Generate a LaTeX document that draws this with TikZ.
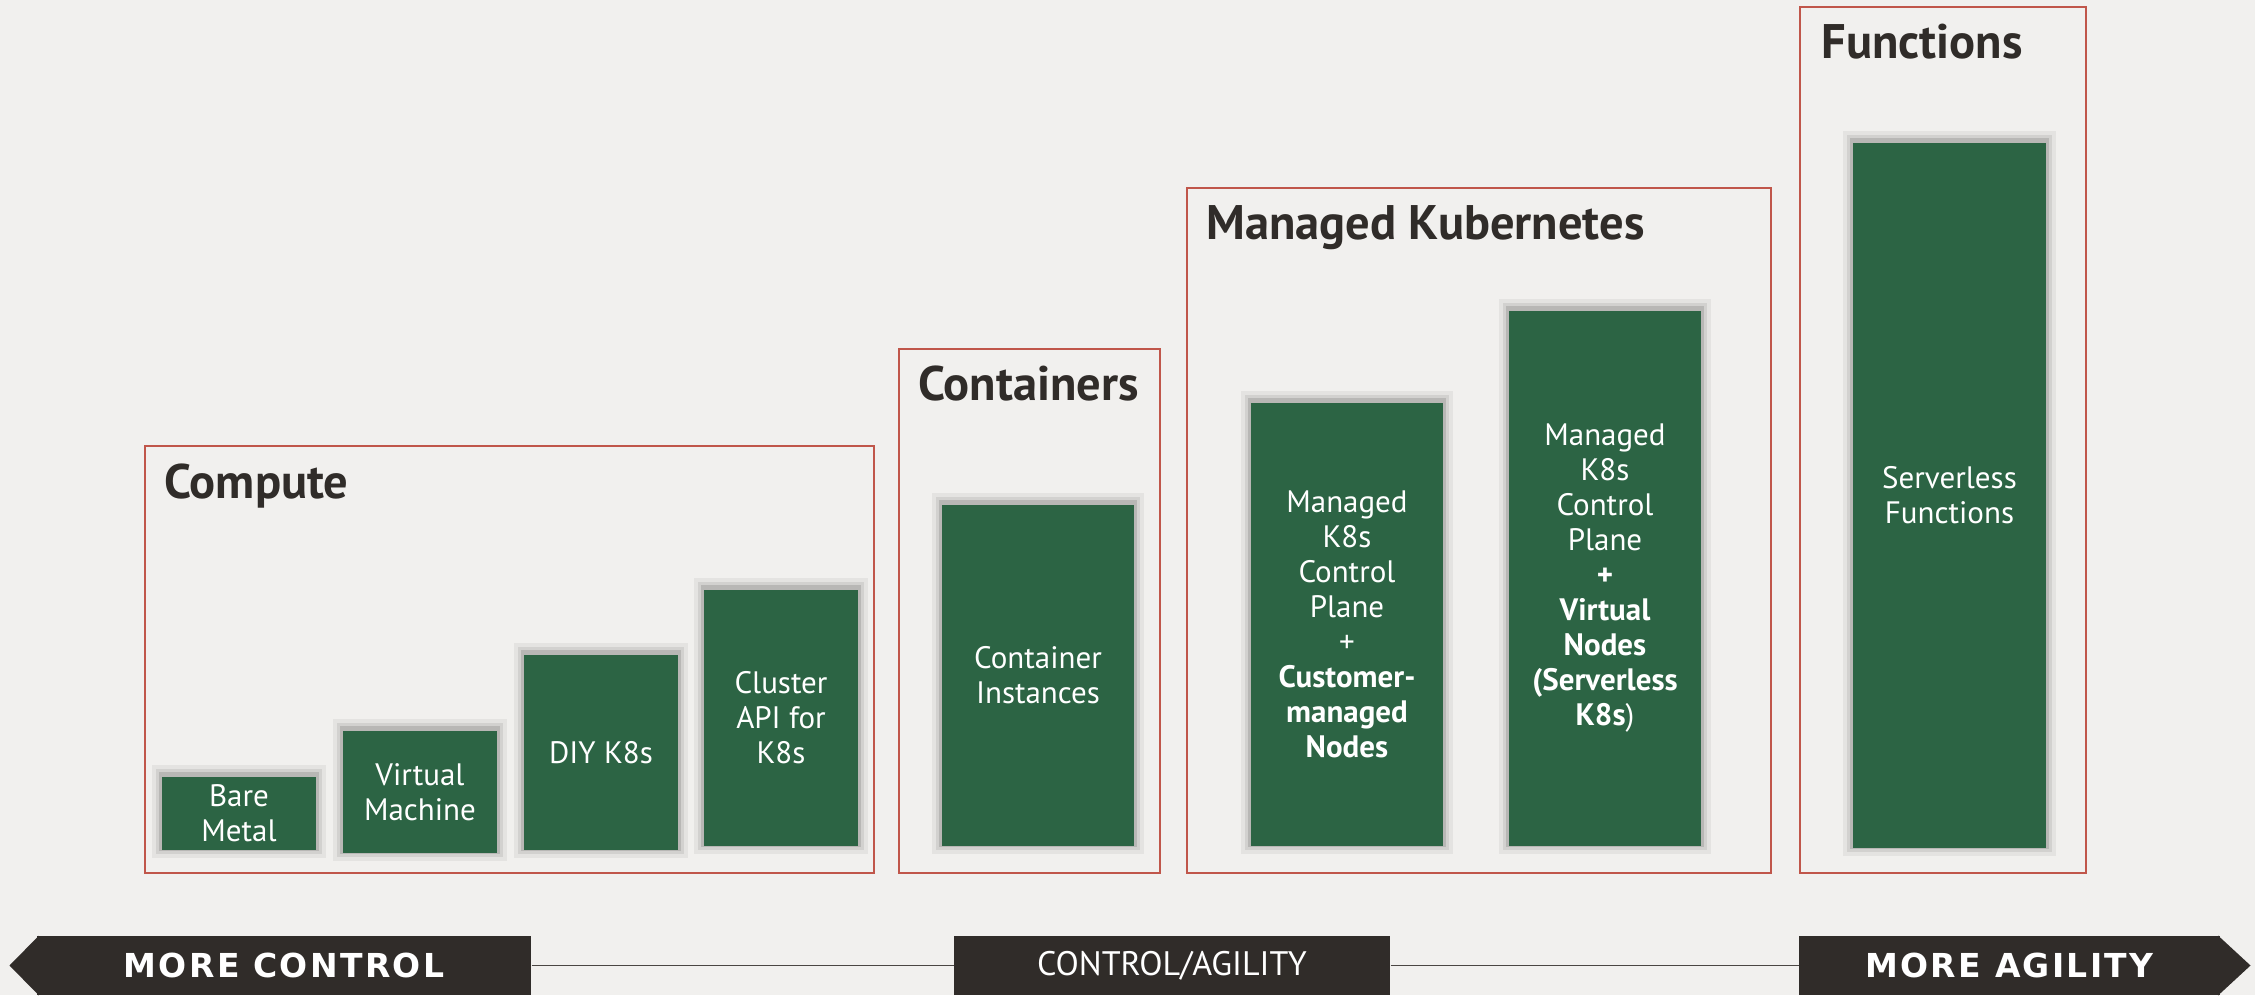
\documentclass[tikz,border=0pt]{standalone}
\usepackage{fontspec}
\setmainfont{PT Sans}
\newfontfamily\barfont{DejaVu Sans}[LetterSpace=7]
\definecolor{bg}{HTML}{F1F0EE}
\definecolor{boxgreen}{HTML}{2C6444}
\definecolor{framered}{HTML}{C0564A}
\definecolor{ink}{HTML}{302C29}
\definecolor{axisgray}{HTML}{4A4643}
\begin{document}
\begin{tikzpicture}[x=0.4pt,y=-0.4pt,
  frame/.style={draw=framered, line width=0.42pt},
  ttl/.style={anchor=base west, inner sep=0pt, text=ink, font=\fontsize{19.4}{21}\selectfont\bfseries},
  gbox/.style={fill=boxgreen, text=white, align=center, inner sep=0pt,
     font=\fontsize{12.4}{14}\selectfont,
     preaction={draw=black, draw opacity=0.05, line width=8pt, transform canvas={yshift=0.8pt}},
     preaction={draw=black, draw opacity=0.08, line width=5pt, transform canvas={yshift=0.8pt}},
     preaction={draw=black, draw opacity=0.12, line width=2.5pt, transform canvas={yshift=0.8pt}}},
  bar/.style={fill=ink, text=white, inner sep=0pt, minimum height=23.6pt},
  barfnt/.style={font=\barfont\bfseries\fontsize{13.2}{15}\selectfont},
  axis/.style={draw=axisgray, line width=0.6pt}
]
\useasboundingbox (0,0) rectangle (2255,995);
\fill[bg] (0,0) rectangle (2255,995);

% group frames
\draw[frame] (145,446) rectangle (874,873);
\draw[frame] (899,349) rectangle (1160,873);
\draw[frame] (1187,188) rectangle (1771,873);
\draw[frame] (1800,7) rectangle (2086,873);

% titles
\node[ttl] (tcompute) at (164,498) {Compute};
\node[ttl] (tcont) at (918,400) {Containers};
\node[ttl] (tmk) at (1206,239) {Managed Kubernetes};
\node[ttl] (tfn) at (1821,58) {Functions};

% green boxes
\node[gbox, minimum width=61.6pt, minimum height=29.2pt] (bm) at (239,813.5) {Bare\\Metal};
\node[gbox, minimum width=61.6pt, minimum height=48.8pt] (vm) at (420,792) {Virtual\\Machine};
\node[gbox, minimum width=61.6pt, minimum height=78pt] (diy) at (601,752.5) {DIY K8s};
\node[gbox, minimum width=61.6pt, minimum height=102.4pt] (capi) at (781,718) {Cluster\\API for\\K8s};
\node[gbox, minimum width=76.8pt, minimum height=136.4pt] (ci) at (1038,675.5) {Container\\Instances};
\node[gbox, minimum width=76.8pt, minimum height=177.2pt] (mk1) at (1347,624.5)
  {Managed\\K8s\\Control\\Plane\\+\\\textbf{Customer-}\\\textbf{managed}\\\textbf{Nodes}};
\node[gbox, minimum width=76.8pt, minimum height=214pt] (mk2) at (1605,578.5)
  {Managed\\K8s\\Control\\Plane\\\textbf{+}\\\textbf{Virtual}\\\textbf{Nodes}\\\textbf{(Serverless}\\\textbf{K8s})};
\node[gbox, minimum width=77.2pt, minimum height=282pt] (sf) at (1949.5,495.5) {Serverless\\Functions};

% bottom axis
\node[bar, barfnt, minimum width=197.6pt] (lbar) at (284,965.5) {MORE CONTROL};
\fill[ink] ([xshift=1pt]lbar.north west) -- ([xshift=-10.8pt]lbar.west) -- ([xshift=1pt]lbar.south west) -- cycle;
\node[bar, barfnt, minimum width=168.4pt] (rbar) at (2009.5,965.5) {MORE AGILITY};
\fill[ink] ([xshift=-1pt]rbar.north east) -- ([xshift=12pt]rbar.east) -- ([xshift=-1pt]rbar.south east) -- cycle;
\node[bar, minimum width=174.4pt, font=\fontsize{13.6}{15}\selectfont] (mid) at (1172,965.5) {CONTROL/AGILITY};
\draw[axis] (lbar.east) -- (mid.west);
\draw[axis] (mid.east) -- (rbar.west);
\end{tikzpicture}
\end{document}
